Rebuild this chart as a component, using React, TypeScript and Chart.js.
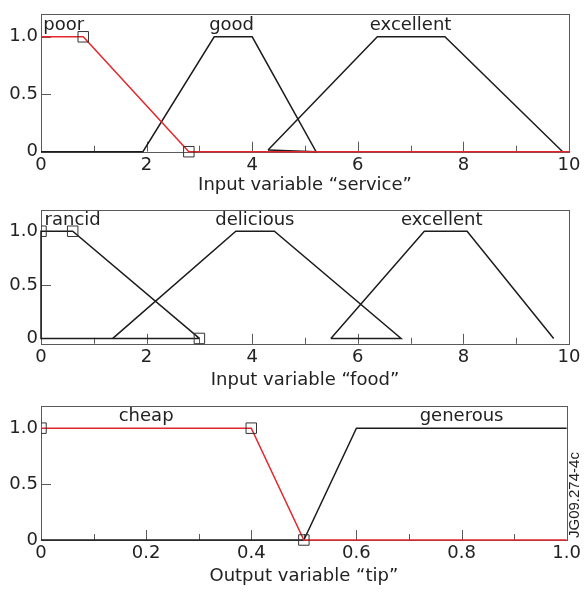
import React, { useEffect, useRef } from 'react';
import { Chart, registerables } from 'chart.js';
Chart.register(...registerables);

const FONT = '"DejaVu Sans", sans-serif';
const RED = '#e3262b';
const BLACK = '#1c1c1c';
const FRAME = '#5a5a5a';
const TEXT = '#222';

// ---------- shared y axis ----------
const yTickValues = [0, 0.5, 1];
const yTickLabels = ['0', '0.5', '1.0'];

// ---------- Panel 1: service ----------
const serviceXTickLabels = ['0', '2', '4', '6', '8', '10'];
const servicePoor = [[0, 1], [0.8, 1], [2.8, 0], [10, 0]];
const servicePoorMarkers = [[0.8, 1], [2.8, 0]];
const serviceGood = [[0, 0], [1.93, 0], [3.28, 1], [4.0, 1], [5.21, 0], [4.3, 0.015]];
const serviceExcellent = [[4.3, 0.015], [6.37, 1], [7.65, 1], [9.88, 0]];
const serviceNames = ['poor', 'good', 'excellent'];
const serviceNameX = [0.43, 3.61, 7.0];

// ---------- Panel 2: food ----------
const foodXTickLabels = ['0', '2', '4', '6', '8', '10'];
const foodRancid = [[3.0, 0], [0, 0], [0, 1], [0.6, 1], [3.0, 0]];
const foodRancidMarkers = [[0, 1], [0.6, 1], [3.0, 0]];
const foodDelicious = [[1.36, 0], [3.69, 1], [4.42, 1], [6.82, 0], [5.49, 0]];
const foodExcellent = [[5.49, 0], [7.26, 1], [8.07, 1], [9.71, 0]];
const foodNames = ['rancid', 'delicious', 'excellent'];
const foodNameX = [0.6, 4.05, 7.59];

// ---------- Panel 3: tip ----------
const tipXTickLabels = ['0', '0.2', '0.4', '0.6', '0.8', '1.0'];
const tipCheap = [[0, 1], [0.4, 1], [0.5, 0], [1.0, 0]];
const tipCheapMarkers = [[0, 1], [0.4, 1], [0.5, 0]];
const tipGenerous = [[0, 0], [0.5, 0], [0.6, 1], [1.0, 1]];
const tipNames = ['cheap', 'generous'];
const tipNameX = [0.2, 0.8];

type Line = { pts: number[][]; color: string };
type PanelCfg = {
  top: number;
  height: number;
  padTop: number;
  xHeight: number;
  titlePad: number;
  xMax: number;
  xStep: number;
  xLabels: string[];
  yMin: number;
  yMax: number;
  title: string;
  lines: Line[];
  markers: number[][];
  names: string[];
  nameX: number[];
  nameY: number;
  stamp?: string;
};

const panels: PanelCfg[] = [
  {
    top: 0, height: 196, padTop: 8.5, xHeight: 44.3, titlePad: 0.2,
    xMax: 10, xStep: 1, xLabels: serviceXTickLabels, yMin: 0, yMax: 1.2,
    title: 'Input variable \u201cservice\u201d',
    lines: [
      { pts: servicePoor, color: RED },
      { pts: serviceGood, color: BLACK },
      { pts: serviceExcellent, color: BLACK },
    ],
    markers: servicePoorMarkers, names: serviceNames, nameX: serviceNameX, nameY: 1.056,
  },
  {
    top: 196, height: 196, padTop: 3.3, xHeight: 48.2, titlePad: 1.2,
    xMax: 10, xStep: 1, xLabels: foodXTickLabels, yMin: -0.05, yMax: 1.2,
    title: 'Input variable \u201cfood\u201d',
    lines: [
      { pts: foodRancid, color: BLACK },
      { pts: foodDelicious, color: BLACK },
      { pts: foodExcellent, color: BLACK },
    ],
    markers: foodRancidMarkers, names: foodNames, nameX: foodNameX, nameY: 1.06,
  },
  {
    top: 392, height: 200, padTop: 4, xHeight: 52, titlePad: 5.2,
    xMax: 1, xStep: 0.1, xLabels: tipXTickLabels, yMin: 0, yMax: 1.2,
    title: 'Output variable \u201ctip\u201d',
    lines: [
      { pts: tipCheap, color: RED },
      { pts: tipGenerous, color: BLACK },
    ],
    markers: tipCheapMarkers, names: tipNames, nameX: tipNameX, nameY: 1.065,
    stamp: 'JG09.274-4c',
  },
];

const framePlugin = {
  id: 'frameTicks',
  beforeDatasetsDraw(chart: any) {
    const { ctx, chartArea: a, scales } = chart;
    ctx.save();
    ctx.strokeStyle = FRAME;
    ctx.lineWidth = 1;
    ctx.strokeRect(Math.round(a.left) + 0.5, Math.round(a.top) + 0.5, Math.round(a.right - a.left), Math.round(a.bottom - a.top));
    const ys = scales.y;
    ys.ticks.forEach((t: any) => {
      const py = Math.round(ys.getPixelForValue(t.value)) + 0.5;
      ctx.beginPath();
      ctx.moveTo(a.left, py);
      ctx.lineTo(a.left + 10, py);
      ctx.stroke();
    });
    const xs = scales.x;
    xs.ticks.forEach((t: any, i: number) => {
      const px = Math.round(xs.getPixelForValue(t.value)) + 0.5;
      const len = i % 2 === 0 ? 10 : 6;
      ctx.beginPath();
      ctx.moveTo(px, a.bottom);
      ctx.lineTo(px, a.bottom - len);
      ctx.stroke();
    });
    ctx.restore();
  },
};

const namesPlugin = {
  id: 'mfNames',
  afterDatasetsDraw(chart: any) {
    const cfg: PanelCfg = chart.options.plugins.mfNames.cfg;
    const { ctx, scales } = chart;
    ctx.save();
    ctx.fillStyle = TEXT;
    ctx.font = `18px ${FONT}`;
    ctx.textAlign = 'center';
    ctx.textBaseline = 'alphabetic';
    cfg.names.forEach((n, i) => {
      ctx.fillText(n, scales.x.getPixelForValue(cfg.nameX[i]), scales.y.getPixelForValue(cfg.nameY));
    });
    if (cfg.stamp) {
      const a = chart.chartArea;
      ctx.translate(a.right + 8, a.bottom - 2);
      ctx.rotate(-Math.PI / 2);
      ctx.font = '15px "Liberation Sans", Arial, sans-serif';
      ctx.textAlign = 'left';
      ctx.textBaseline = 'middle';
      ctx.fillText(cfg.stamp, 0, 0);
    }
    ctx.restore();
  },
};

function Panel({ cfg }: { cfg: PanelCfg }) {
  const ref = useRef<HTMLCanvasElement>(null);
  useEffect(() => {
    if (!ref.current) return;
    const datasets: any[] = [];
    datasets.push({
      data: cfg.markers.map(([x, y]) => ({ x, y })),
      showLine: false,
      pointStyle: 'rect',
      pointRadius: 7.4,
      pointBorderColor: '#333',
      pointBackgroundColor: 'rgba(0,0,0,0)',
      pointBorderWidth: 1,
      clip: { left: 0, top: false, right: false, bottom: false },
    });
    cfg.lines.forEach((l) => {
      datasets.push({
        data: l.pts.map(([x, y]) => ({ x, y })),
        showLine: true,
        borderColor: l.color,
        borderWidth: 1.5,
        pointRadius: 0,
        fill: false,
        tension: 0,
        clip: false,
      });
    });
    const chart = new Chart(ref.current, {
      type: 'scatter',
      data: { datasets },
      plugins: [framePlugin, namesPlugin],
      options: {
        responsive: false,
        animation: false,
        devicePixelRatio: 1,
        layout: { padding: { left: 0, right: 15, top: cfg.padTop, bottom: 0 } },
        plugins: {
          legend: { display: false },
          tooltip: { enabled: false },
          mfNames: { cfg },
        } as any,
        scales: {
          x: {
            type: 'linear',
            min: 0,
            max: cfg.xMax,
            grid: { display: false, drawTicks: false },
            border: { display: false },
            ticks: {
              stepSize: cfg.xStep,
              autoSkip: false,
              maxRotation: 0,
              padding: 3,
              color: TEXT,
              font: { family: FONT, size: 18 },
              callback: (_v: any, i: number) => (i % 2 === 0 ? cfg.xLabels[i / 2] : ''),
            },
            title: {
              display: true,
              text: cfg.title,
              color: TEXT,
              font: { family: FONT, size: 18 },
              padding: { top: 0, bottom: cfg.titlePad },
            },
            afterFit: (s: any) => {
              s.height = cfg.xHeight;
            },
          },
          y: {
            type: 'linear',
            min: cfg.yMin,
            max: cfg.yMax,
            grid: { display: false, drawTicks: false },
            border: { display: false },
            afterBuildTicks: (s: any) => {
              s.ticks = yTickValues.map((v) => ({ value: v }));
            },
            ticks: {
              padding: 3,
              color: TEXT,
              font: { family: FONT, size: 18 },
              callback: (_v: any, i: number) => yTickLabels[i],
            },
            afterFit: (s: any) => {
              s.width = 41;
            },
          },
        },
      } as any,
    });
    return () => chart.destroy();
  }, [cfg]);
  return (
    <canvas
      ref={ref}
      width={584}
      height={cfg.height}
      style={{ position: 'absolute', left: 0, top: cfg.top, width: 584, height: cfg.height, display: 'block' }}
    />
  );
}

export default function App() {
  return (
    <div style={{ position: 'absolute', left: 0, top: 0, width: 584, height: 592, background: '#fff' }}>
      {panels.map((p, i) => (
        <Panel key={i} cfg={p} />
      ))}
    </div>
  );
}
